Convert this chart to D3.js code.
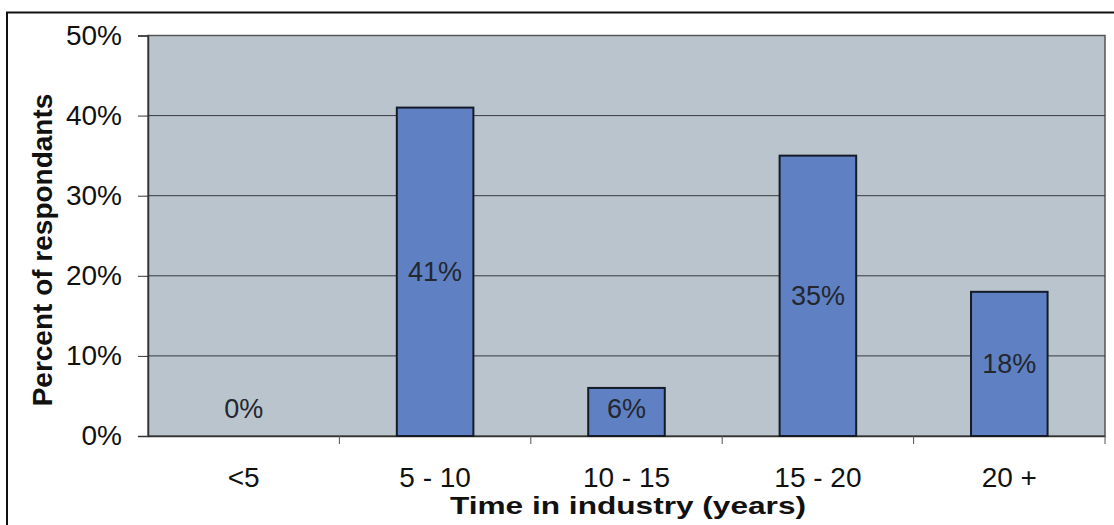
<!DOCTYPE html>
<html><head><meta charset="utf-8">
<script src="https://cdn.jsdelivr.net/npm/d3@7"></script>
<style>body{margin:0;background:#fff;}svg{display:block;font-family:"Liberation Sans",Arial,sans-serif;}</style>
</head><body>
<script>
const categories = ["<5", "5 - 10", "10 - 15", "15 - 20", "20 +"];
const values = [0, 41, 6, 35, 18];
const valueLabels = ["0%", "41%", "6%", "35%", "18%"];
const yTicks = [0, 10, 20, 30, 40, 50];

const W = 1114, H = 525;
const m = {left:148, right:9, top:35.5, bottom:89};
const svg = d3.select("body").append("svg").attr("width", W).attr("height", H);

// outer frame
svg.append("rect").attr("x",7).attr("y",12.5).attr("width",W+10).attr("height",H+10)
  .attr("fill","none").attr("stroke","#111").attr("stroke-width",2);

const x = d3.scaleBand().domain(categories).range([m.left, W - m.right]).paddingInner(0.6).paddingOuter(0.3);
const xb = d3.scaleBand().domain(categories).range([m.left, W - m.right]);
const y = d3.scaleLinear().domain([0, 50]).range([H - m.bottom, m.top]);

svg.append("rect").attr("x", m.left).attr("y", m.top).attr("width", W - m.right - m.left)
  .attr("height", H - m.bottom - m.top).attr("fill", "#bac4cc").attr("stroke","#555").attr("stroke-width",1.5);

// gridlines
svg.append("g").selectAll("line").data(yTicks.filter(d=>d>0 && d<50)).join("line")
  .attr("x1", m.left).attr("x2", W - m.right).attr("y1", d=>y(d)).attr("y2", d=>y(d))
  .attr("stroke","#353a40").attr("stroke-width",1);

// y axis
const ya = svg.append("g").attr("transform",`translate(${m.left},0)`)
  .call(d3.axisLeft(y).tickValues(yTicks).tickFormat(d=>d+"%").tickSize(10).tickPadding(16));
ya.select(".domain").attr("stroke","#333").attr("stroke-width",1.5);
ya.selectAll(".tick line").attr("stroke","#333");
ya.selectAll("text").attr("font-size",28).attr("fill","#111");

// x axis
const xa = svg.append("g").attr("transform",`translate(0,${H - m.bottom})`)
  .call(d3.axisBottom(xb).tickSize(0).tickPadding(31));
xa.select(".domain").attr("stroke","#333").attr("stroke-width",1.5);
xa.selectAll("text").attr("font-size",28).attr("fill","#111");
svg.append("g").selectAll("line").data(categories.slice(1).map(c=>xb(c)).concat([W - m.right])).join("line")
  .attr("x1", d=>d).attr("x2", d=>d).attr("y1", H-m.bottom).attr("y2", H-m.bottom+8)
  .attr("stroke","#555");

// bars
svg.append("g").selectAll("rect").data(values).join("rect")
  .attr("x",(d,i)=>x(categories[i])).attr("width",x.bandwidth())
  .attr("y",d=>y(d)).attr("height",d=>y(0)-y(d))
  .attr("fill","#5f80c2").attr("stroke","#141a28").attr("stroke-width",2)
  .style("display", d=> d>0 ? null : "none");

// value labels
svg.append("g").selectAll("text").data(values).join("text")
  .attr("x",(d,i)=>x(categories[i]) + x.bandwidth()/2)
  .attr("y",d=>Math.min(y(d/2), y(0)-27))
  .attr("dy","0.35em").attr("text-anchor","middle")
  .attr("font-size",27).attr("fill","#23272e")
  .text((d,i)=>valueLabels[i]);

// titles
svg.append("text").attr("x", 628).attr("y", 514)
  .attr("text-anchor","middle").attr("font-size",24).attr("font-weight","bold").attr("fill","#111")
  .attr("textLength",356).attr("lengthAdjust","spacingAndGlyphs")
  .text("Time in industry (years)");
svg.append("text").attr("transform",`translate(52,250) rotate(-90)`)
  .attr("text-anchor","middle").attr("font-size",28).attr("font-weight","bold").attr("fill","#111")
  .text("Percent of respondants");
</script>
</body></html>
